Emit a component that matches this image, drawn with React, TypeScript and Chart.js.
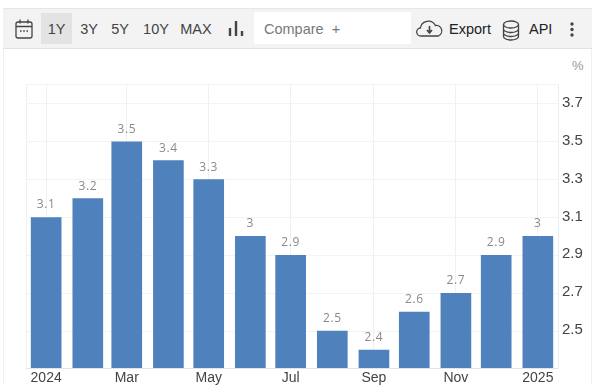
import React, { useEffect, useRef } from "react";
import { Chart, registerables } from "chart.js";

Chart.register(...registerables);

// Days since 2024-01-01 for each monthly bar
const dayOffsets = [0, 31, 60, 91, 121, 152, 182, 213, 244, 274, 305, 335, 366];
const inflationValues = [3.1, 3.2, 3.5, 3.4, 3.3, 3, 2.9, 2.5, 2.4, 2.6, 2.7, 2.9, 3];
const xTickDays = [-15, 0, 60, 121, 182, 244, 305, 366, 381];
const xTickLabels = ["", "2024", "Mar", "May", "Jul", "Sep", "Nov", "2025", ""];
const yTickValues = [2.305, 2.5, 2.7, 2.9, 3.1, 3.3, 3.5, 3.7, 3.805];
const yTickLabels = ["", "2.5", "2.7", "2.9", "3.1", "3.3", "3.5", "3.7", ""];
const rangeButtons = ["1Y", "3Y", "5Y", "10Y", "MAX"];
const rangeButtonX = [41, 74, 105, 137, 176];
const rangeButtonW = [31, 30, 30, 38, 40];

const sans = '"Liberation Sans", Arial, sans-serif';

const valueLabels = {
  id: "valueLabels",
  afterDatasetsDraw(chart: any) {
    const { ctx } = chart;
    const meta = chart.getDatasetMeta(0);
    ctx.save();
    ctx.font = '12px "Open Sans", sans-serif';
    ctx.fillStyle = "#8a8a8a";
    ctx.textAlign = "center";
    ctx.textBaseline = "alphabetic";
    (ctx as any).letterSpacing = "0.6px";
    meta.data.forEach((bar: any, i: number) => {
      ctx.fillText(String(inflationValues[i]), bar.x, bar.y - 9);
    });
    ctx.restore();
  },
};

export default function App() {
  const ref = useRef<HTMLCanvasElement>(null);
  useEffect(() => {
    const chart = new Chart(ref.current!, {
      type: "bar",
      data: {
        datasets: [
          {
            data: dayOffsets.map((d, i) => ({ x: d, y: inflationValues[i] })),
            backgroundColor: "#4f81bd",
            borderWidth: 0,
            barThickness: 30,
          },
        ],
      },
      options: {
        animation: false,
        responsive: false,
        layout: { padding: { top: 84, left: 26, right: 0, bottom: 0 } },
        plugins: { legend: { display: false }, tooltip: { enabled: false } },
        scales: {
          x: {
            type: "linear",
            offset: false,
            min: -15,
            max: 381,
            afterBuildTicks(s: any) {
              s.ticks = xTickDays.map((value) => ({ value }));
            },
            afterFit(s: any) {
              s.height = 24;
            },
            grid: { color: "#f0f0f0", drawTicks: false, offset: false },
            border: { color: "#dfe5ee" },
            ticks: {
              autoSkip: false,
              maxRotation: 0,
              padding: 2,
              color: "#444444",
              font: { family: sans, size: 14 },
              callback: (v: any) => {
                const i = xTickDays.indexOf(Number(v));
                return i >= 0 ? xTickLabels[i] : "";
              },
            },
          },
          y: {
            position: "right",
            min: 2.305,
            max: 3.805,
            afterBuildTicks(s: any) {
              s.ticks = yTickValues.map((value) => ({ value }));
            },
            afterFit(s: any) {
              s.width = 42;
            },
            grid: { color: "#f3f3f3", drawTicks: false },
            border: { color: "#e8ebf0" },
            ticks: {
              autoSkip: false,
              padding: 4,
              labelOffset: -1,
              color: "#444444",
              font: { family: sans, size: 15 },
              callback: (v: any) => {
                const i = yTickValues.indexOf(Number(v));
                return i >= 0 ? yTickLabels[i] : "";
              },
            },
          },
        },
      },
      plugins: [valueLabels],
    } as any);
    return () => chart.destroy();
  }, []);

  const text = (x: number, label: string, color = "#444", size = 14): React.CSSProperties => ({
    position: "absolute",
    left: x,
    top: 20,
    height: 18,
    lineHeight: "18px",
    fontFamily: sans,
    fontSize: size,
    color,
    whiteSpace: "nowrap",
  });

  return (
    <div style={{ position: "fixed", left: 0, top: 0, width: 600, height: 392, background: "#fff", overflow: "hidden" }}>
      <div style={{ position: "absolute", left: 3, top: 8, width: 589, height: 376, borderLeft: "1px solid #f0f0f0", borderRight: "1px solid #f0f0f0", boxSizing: "border-box" }} />
      <div style={{ position: "absolute", left: 3, top: 8, width: 589, height: 41, background: "#f3f3f3", borderTop: "1px solid #e6e6e6", borderBottom: "1px solid #e2e2e2", boxSizing: "border-box" }} />
      <div style={{ position: "absolute", left: 41, top: 13, width: 31, height: 31, background: "#e3e3e3" }} />
      <div style={{ position: "absolute", left: 254, top: 12, width: 157, height: 32, background: "#fff", borderRadius: 1 }} />
      <svg width="600" height="60" style={{ position: "absolute", left: 0, top: 0 }} fill="none" stroke="#444" strokeWidth="1.3">
        <rect x="16" y="22" width="16" height="16" rx="2" />
        <path d="M16 26.5h16M20 19.5v4M28 19.5v4" />
        <path d="M20 31h1.6M23.2 31h1.6M26.4 31h1.6" strokeWidth="1.5" />
        <path d="M230 36V28M236 36V21M242 36V31" strokeWidth="2.4" />
        <path d="M424 36h-3a4 4 0 0 1-.6-8 8 8 0 0 1 15-2.5 5.5 5.5 0 0 1 3 10.500h-14.400z" />
        <path d="M429.500 26v6M427 30l2.500 3 2.500-3" strokeWidth="1.600" />
        <ellipse cx="511" cy="24.500" rx="7.500" ry="3.500" />
        <path d="M503.500 24.500v12c0 2 3.400 3.500 7.500 3.500s7.500-1.500 7.500-3.500v-12M503.500 29c0 2 3.400 3.500 7.500 3.500s7.500-1.500 7.500-3.500M503.500 33c0 2 3.400 3.500 7.500 3.500s7.500-1.500 7.500-3.500" />
        <g fill="#444" stroke="none">
          <circle cx="572" cy="24" r="1.700" />
          <circle cx="572" cy="29.500" r="1.700" />
          <circle cx="572" cy="35" r="1.700" />
        </g>
      </svg>
      {rangeButtons.map((b, i) => (
        <div key={b} style={{ ...text(rangeButtonX[i], b, "#444", 14.5), width: rangeButtonW[i], textAlign: "center" }}>{b}</div>
      ))}
      <div style={text(264, "", "#777", 14.5)}>Compare&nbsp;&nbsp;+</div>
      <div style={text(449, "", "#222", 14.5)}>Export</div>
      <div style={text(529, "", "#222", 14.5)}>API</div>
      <div style={{ ...text(572, "", "#999", 13), top: 57 }}>%</div>
      <canvas ref={ref} width={600} height={392} style={{ position: "absolute", left: 0, top: 0 }} />
    </div>
  );
}
